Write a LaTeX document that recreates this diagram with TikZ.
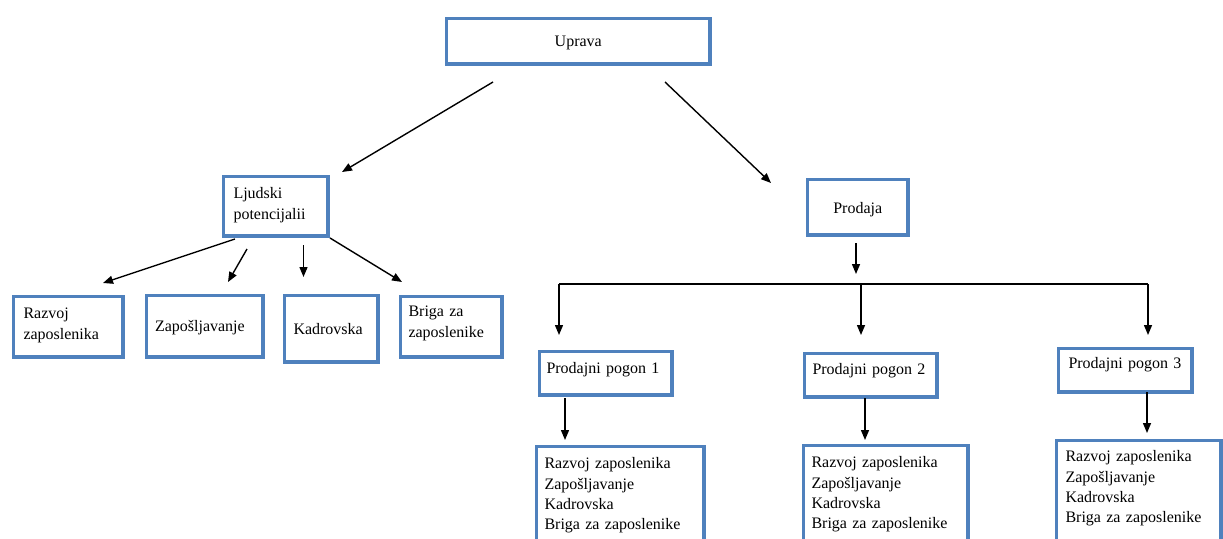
\documentclass[tikz,border=0pt]{standalone}
\usepackage{fontspec}
\setmainfont{Liberation Serif}
\usetikzlibrary{arrows.meta}
\definecolor{boxblue}{HTML}{4F81BD}
\tikzset{
  orgbox/.style={draw=boxblue, line width=3.5pt, fill=white, rectangle,
    anchor=north west, inner ysep=0pt, align=left,
    font=\fontsize{16}{20.3}\selectfont},
  conn/.style={line width=1.4pt, -{Triangle[length=10pt,width=8pt]}},
  plainline/.style={line width=1.4pt}
}
\begin{document}
\begin{tikzpicture}[x=1pt,y=-1pt]
\useasboundingbox (0,0) rectangle (1223,538);
\clip (0,0) rectangle (1223,538);
\fill[white] (0,0) rectangle (1223,538);

% top level
\node[orgbox, align=center, inner xsep=0pt, text width=263.5pt, text height=28.25pt, text depth=17.25pt] (uprava) at (444.75,16.75) {Uprava};

% second level
\node[orgbox, inner xsep=10pt, text width=84.5pt, text height=22.25pt, text depth=37.25pt] (ljudski) at (221.75,174.75) {Ljudski\\potencijalii};
\node[orgbox, align=center, inner xsep=0pt, text width=100.5pt, text height=34.25pt, text depth=21.25pt] (prodaja) at (805.75,177.75) {Prodaja};

% Ljudski children
\node[orgbox, inner xsep=10pt, text width=89.5pt, text height=22.25pt, text depth=38.25pt] (razvoj) at (11.75,294.75) {Razvoj\\zaposlenika};
\node[orgbox, inner xsep=8.5pt, text width=99.5pt, text height=36.25pt, text depth=25.25pt] (zaposlj) at (144.75,293.75) {Zapošljavanje};
\node[orgbox, inner xsep=9pt, text width=75.5pt, text height=39.25pt, text depth=27.25pt] (kadrovska) at (282.75,293.75) {Kadrovska};
\node[orgbox, inner xsep=8pt, text width=85.5pt, text height=20.25pt, text depth=40.25pt] (briga) at (398.75,294.75) {Briga za\\zaposlenike};

% Prodajni pogoni
\node[orgbox, inner xsep=7pt, text width=118.5pt, text height=22.25pt, text depth=21.25pt] (pp1) at (537.75,349.75) {Prodajni pogon 1};
\node[orgbox, inner xsep=8pt, text width=116.5pt, text height=21.25pt, text depth=22.25pt] (pp2) at (802.75,351.75) {Prodajni pogon 2};
\node[orgbox, inner xsep=10pt, text width=113.5pt, text height=20.25pt, text depth=23.25pt] (pp3) at (1056.75,346.75) {Prodajni pogon 3};

% bottom lists
\node[orgbox, inner xsep=8pt, text width=151.5pt, text height=22.25pt, text depth=79.25pt] (b1) at (534.75,444.75) {Razvoj zaposlenika\\Zapošljavanje\\Kadrovska\\Briga za zaposlenike};
\node[orgbox, inner xsep=8pt, text width=148.5pt, text height=22.25pt, text depth=80.25pt] (b2) at (801.75,443.75) {Razvoj zaposlenika\\Zapošljavanje\\Kadrovska\\Briga za zaposlenike};
\node[orgbox, inner xsep=9pt, text width=146.5pt, text height=21.25pt, text depth=86.25pt] (b3) at (1054.75,438.75) {Razvoj zaposlenika\\Zapošljavanje\\Kadrovska\\Briga za zaposlenike};

% connector end points (free-floating arrows as in the reference)
\coordinate (u1) at (493,82);   \coordinate (lj) at (342,172);
\coordinate (u2) at (665,82);   \coordinate (pr) at (771,183);
\coordinate (l1) at (235,239);  \coordinate (r1) at (103,283);
\coordinate (l2) at (247,249);  \coordinate (r2) at (228,282);
\coordinate (l3) at (303.5,245);\coordinate (r3) at (303.5,277);
\coordinate (l4) at (330,238);  \coordinate (r4) at (402,282);
\coordinate (p0) at (856,243);  \coordinate (p0e) at (856,274);
\coordinate (hl) at (559,284);  \coordinate (hm) at (861,284);  \coordinate (hr) at (1148,284);
\coordinate (q1) at (559,335);  \coordinate (q2) at (861,335);  \coordinate (q3) at (1148,335);
\coordinate (s1) at (565,398);  \coordinate (t1) at (565,440);
\coordinate (s2) at (865,398);  \coordinate (t2) at (865,440);
\coordinate (s3) at (1147,392); \coordinate (t3) at (1147,433);

\draw[conn] (u1) -- (lj);
\draw[conn] (u2) -- (pr);
\draw[conn] (l1) -- (r1);
\draw[conn] (l2) -- (r2);
\draw[conn] (l3) -- (r3);
\draw[conn] (l4) -- (r4);
\draw[conn] (p0) -- (p0e);
\draw[plainline] (hl) -- (hr);
\draw[conn] (hl) -- (q1);
\draw[conn] (hm) -- (q2);
\draw[conn] (hr) -- (q3);
\draw[conn] (s1) -- (t1);
\draw[conn] (s2) -- (t2);
\draw[conn] (s3) -- (t3);
\end{tikzpicture}
\end{document}
